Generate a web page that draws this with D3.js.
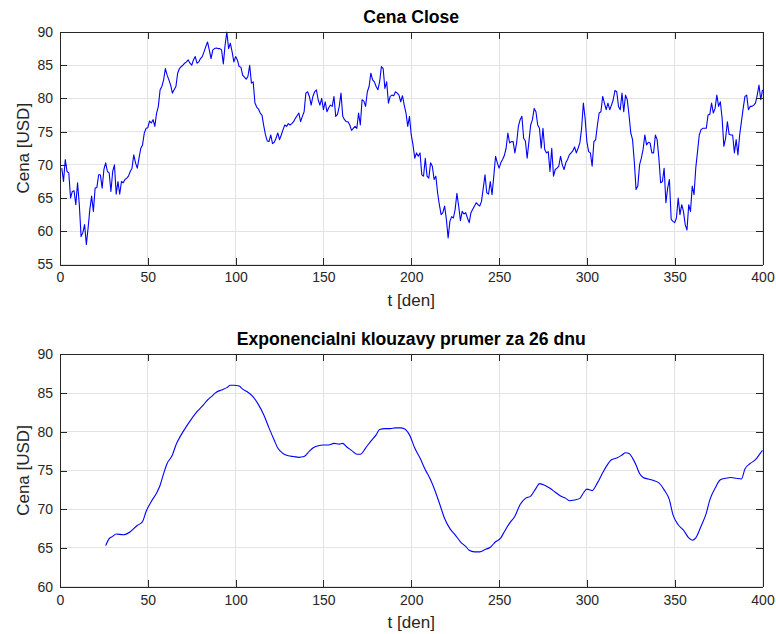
<!DOCTYPE html>
<html>
<head>
<meta charset="utf-8">
<script src="https://cdn.jsdelivr.net/npm/d3@7"></script>
<style>
  html, body { margin: 0; padding: 0; background: #fff; }
  svg { display: block; font-family: "Liberation Sans", Arial, Helvetica, sans-serif; }
</style>
</head>
<body>
<svg id="chart" width="776" height="634"></svg>
<script>
// Daily closing price, days 1..400
const closePrices = [
  69.5, 67.5, 70.8, 69.0, 68.8, 65.0, 66.0, 66.1, 64.0, 67.3,
  64.0, 59.2, 59.8, 61.0, 58.0, 60.5, 63.3, 65.3, 63.0, 66.5,
  66.6, 68.5, 68.5, 66.5, 69.3, 70.3, 69.0, 68.8, 66.0, 69.0,
  70.0, 65.6, 67.5, 65.6, 67.5, 67.3, 67.8, 68.0, 68.3, 69.0,
  69.5, 71.5, 70.3, 69.5, 71.0, 72.5, 73.0, 74.8, 75.5, 75.6,
  76.6, 76.3, 76.8, 75.8, 77.8, 78.8, 81.3, 81.8, 82.8, 84.5,
  83.5, 82.8, 82.0, 80.8, 81.3, 81.8, 83.8, 84.5, 84.8, 85.0,
  85.3, 85.5, 85.8, 85.3, 85.0, 85.8, 86.3, 85.3, 85.5, 86.0,
  86.3, 87.0, 87.8, 88.5, 87.3, 86.0, 87.3, 87.5, 87.6, 87.5,
  87.5, 87.3, 85.2, 88.0, 90.0, 87.5, 88.3, 87.0, 85.5, 86.3,
  85.8, 84.8, 84.7, 83.5, 83.2, 82.9, 83.3, 85.0, 82.3, 82.5,
  79.3, 78.7, 78.4, 77.8, 77.5, 75.9, 74.5, 73.6, 73.5, 74.5,
  73.2, 73.4, 74.0, 74.8, 73.8, 74.5, 75.3, 76.0, 75.8, 76.2,
  76.0, 76.2, 76.5, 77.0, 77.4, 77.8, 76.5, 77.3, 78.0, 80.8,
  81.0, 80.3, 79.0, 80.3, 81.0, 81.3, 79.8, 79.0, 80.0, 78.3,
  79.5, 78.0, 78.6, 79.0, 78.8, 80.3, 77.3, 77.6, 78.8, 80.8,
  77.3, 76.8, 76.5, 76.5, 76.0, 75.2, 75.5, 75.8, 75.5, 77.8,
  76.0, 79.8, 79.6, 78.8, 81.0, 81.8, 83.8, 82.8, 82.5, 81.8,
  81.3, 82.5, 84.8, 84.5, 81.5, 82.5, 79.3, 80.3, 80.5, 80.4,
  81.0, 80.8, 80.5, 79.5, 80.4, 79.0, 77.8, 75.8, 77.3, 74.5,
  73.0, 71.0, 71.8, 71.3, 71.8, 68.5, 68.3, 71.0, 68.3, 68.0,
  70.3, 69.8, 67.8, 68.3, 65.8, 64.0, 62.5, 62.8, 63.8, 61.8,
  59.0, 61.5, 62.2, 62.0, 63.3, 65.7, 63.8, 61.6, 63.0, 62.6,
  62.8, 62.0, 61.3, 62.8, 63.3, 63.8, 64.3, 64.0, 63.8, 64.5,
  66.5, 68.5, 65.8, 65.6, 67.5, 65.5, 68.3, 71.3, 70.3, 69.5,
  70.3, 70.8, 71.4, 72.5, 74.8, 73.3, 73.5, 73.5, 71.8, 73.3,
  75.8, 76.8, 77.3, 74.0, 73.6, 71.0, 73.5, 76.0, 76.8, 78.5,
  78.0, 76.0, 75.5, 72.5, 75.5, 72.3, 71.8, 72.0, 69.0, 72.5,
  68.3, 69.3, 69.5, 69.8, 71.3, 70.0, 69.3, 70.3, 70.8, 71.5,
  71.8, 72.1, 72.7, 71.8, 72.5, 73.3, 75.5, 79.3, 77.0, 73.5,
  72.0, 71.8, 69.8, 73.5, 73.8, 76.0, 77.8, 78.0, 80.3, 79.3,
  78.3, 79.3, 78.3, 79.0, 79.8, 81.2, 81.0, 78.8, 78.3, 80.8,
  78.0, 80.5, 79.8, 77.5, 74.8, 73.8, 70.5, 66.3, 66.8, 70.0,
  71.0, 72.3, 74.5, 73.0, 73.4, 73.3, 71.8, 71.8, 74.5, 73.8,
  71.0, 67.3, 67.5, 69.5, 64.3, 66.5, 67.8, 61.8, 61.5, 61.3,
  62.0, 65.0, 62.5, 64.0, 63.0, 61.0, 60.2, 64.0, 63.0, 66.8,
  65.5, 69.5, 72.0, 74.5, 75.3, 75.5, 75.5, 75.5, 77.5, 77.6,
  79.3, 77.8, 78.5, 80.5, 78.8, 79.5, 77.0, 72.8, 74.0, 76.5,
  74.6, 74.5, 74.5, 71.8, 73.8, 71.5, 74.5, 76.5, 78.5, 80.3,
  80.5, 78.3, 78.8, 78.8, 79.0, 79.3, 80.5, 82.0, 79.8, 81.3
];
const closeDays = closePrices.map((_, i) => i + 1);

// 26-day exponential moving average
const emaDays = [
  26, 28, 30, 32, 36, 40, 44, 47, 49, 52, 55, 57, 59, 61, 64, 66, 69, 72, 75, 78,
  81, 84, 86, 89, 92, 95, 97, 99, 102, 104, 107, 110, 113, 116, 119, 122, 124, 127, 130, 133,
  136, 139, 142, 144, 147, 150, 153, 156, 159, 161, 163, 166, 169, 171, 174, 177, 180, 182, 185, 188,
  191, 194, 196, 199, 202, 205, 208, 211, 213, 216, 219, 222, 225, 228, 231, 233, 236, 239, 242, 245,
  248, 251, 253, 256, 259, 262, 265, 268, 271, 273, 276, 279, 282, 285, 288, 290, 293, 296, 298, 300,
  303, 306, 309, 311, 314, 317, 320, 322, 324, 326, 328, 330, 332, 335, 338, 341, 344, 347, 349, 352,
  355, 358, 360, 362, 365, 368, 370, 373, 376, 379, 382, 385, 388, 390, 393, 396, 399, 400
];
const emaValues = [
  65.3, 66.2, 66.5, 66.8, 66.7, 67.1, 67.9, 68.4, 69.7, 71.0, 72.1, 73.1, 74.6, 75.9, 77.0, 78.3, 79.6, 80.7, 81.7, 82.6,
  83.3, 84.1, 84.5, 85.1, 85.4, 85.7, 86.0, 86.0, 85.9, 85.5, 85.1, 84.5, 83.5, 82.2, 80.5, 78.9, 77.9, 77.2, 76.9, 76.8,
  76.7, 76.8, 77.5, 77.9, 78.2, 78.3, 78.3, 78.5, 78.4, 78.5, 78.1, 77.6, 77.1, 77.1, 77.9, 78.8, 79.6, 80.3, 80.4, 80.4,
  80.5, 80.5, 80.4, 79.6, 77.9, 76.6, 75.1, 73.8, 72.7, 70.8, 68.8, 67.5, 66.7, 65.8, 65.2, 64.7, 64.5, 64.5, 64.8, 65.1,
  65.8, 66.3, 67.1, 68.2, 69.1, 70.6, 71.4, 71.7, 72.7, 73.3, 73.1, 72.7, 72.2, 71.7, 71.4, 71.1, 71.2, 71.4, 72.1, 72.6,
  72.4, 73.4, 74.7, 75.5, 76.4, 76.6, 77.0, 77.3, 77.2, 76.6, 75.7, 74.6, 74.1, 73.9, 73.7, 73.4, 72.5, 71.2, 69.3, 68.0,
  67.3, 66.3, 66.0, 66.3, 67.8, 69.5, 71.2, 72.7, 73.8, 74.0, 74.1, 74.0, 73.9, 75.2, 75.9, 76.4, 77.3, 77.6
];

// Axis tick values
const xTicks = [0, 50, 100, 150, 200, 250, 300, 350, 400];
const yTicksTop = [55, 60, 65, 70, 75, 80, 85, 90];
const yTicksBottom = [60, 65, 70, 75, 80, 85, 90];

const AXIS_COLOR = "#262626";
const GRID_COLOR = "#e3e3e3";
const LINE_COLOR = "#0000ff";
const TICK_FONT = "14px";
const LABEL_FONT = "17px";
const TITLE_FONT = "17.6px";

const svg = d3.select("#chart");

function panel(opts) {
  const { left, right, top, bottom, yDomain, yTicks, xs, ys, title } = opts;
  const x = d3.scaleLinear().domain([0, 400]).range([left, right]);
  const y = d3.scaleLinear().domain(yDomain).range([bottom, top]);
  const g = svg.append("g");

  // grid
  g.append("g").selectAll("line").data(xTicks).join("line")
    .attr("x1", d => x(d)).attr("x2", d => x(d))
    .attr("y1", top).attr("y2", bottom)
    .attr("stroke", GRID_COLOR).attr("stroke-width", 1).attr("shape-rendering", "crispEdges");
  g.append("g").selectAll("line").data(yTicks).join("line")
    .attr("x1", left).attr("x2", right)
    .attr("y1", d => y(d)).attr("y2", d => y(d))
    .attr("stroke", GRID_COLOR).attr("stroke-width", 1).attr("shape-rendering", "crispEdges");

  // data line
  const line = d3.line()
    .x((d, i) => x(xs[i]))
    .y(d => y(d));
  if (opts.smooth) line.curve(d3.curveMonotoneX);
  g.append("path")
    .datum(ys)
    .attr("fill", "none")
    .attr("stroke", LINE_COLOR)
    .attr("stroke-width", 1.1)
    .attr("stroke-linejoin", "round")
    .attr("d", line);

  // axes with inward ticks on all four sides
  const tickLen = 7;
  const styleAxis = sel => {
    sel.select(".domain").attr("stroke", AXIS_COLOR).attr("stroke-width", 1);
    sel.selectAll(".tick line").attr("stroke", AXIS_COLOR).attr("stroke-width", 1);
    sel.selectAll(".tick text").attr("fill", AXIS_COLOR).style("font-size", TICK_FONT)
      .style("font-family", "'Liberation Sans', Arial, sans-serif");
    sel.attr("shape-rendering", "crispEdges");
  };

  g.append("g").attr("transform", `translate(0,${bottom})`)
    .call(d3.axisBottom(x).tickValues(xTicks).tickSizeInner(-tickLen).tickSizeOuter(0).tickPadding(8))
    .call(styleAxis);
  g.append("g").attr("transform", `translate(0,${top})`)
    .call(d3.axisTop(x).tickValues(xTicks).tickSizeInner(-tickLen).tickSizeOuter(0).tickFormat(""))
    .call(styleAxis);
  g.append("g").attr("transform", `translate(${left},0)`)
    .call(d3.axisLeft(y).tickValues(yTicks).tickSizeInner(-tickLen).tickSizeOuter(0).tickPadding(7))
    .call(styleAxis);
  g.append("g").attr("transform", `translate(${right},0)`)
    .call(d3.axisRight(y).tickValues(yTicks).tickSizeInner(-tickLen).tickSizeOuter(0).tickFormat(""))
    .call(styleAxis);

  // title
  g.append("text")
    .attr("x", (left + right) / 2).attr("y", top - 9)
    .attr("text-anchor", "middle")
    .attr("fill", "#000")
    .style("font-size", TITLE_FONT).style("font-weight", "bold")
    .text(title);

  // axis labels
  g.append("text")
    .attr("x", (left + right) / 2).attr("y", bottom + 41)
    .attr("text-anchor", "middle")
    .attr("fill", AXIS_COLOR)
    .style("font-size", LABEL_FONT)
    .text("t [den]");
  g.append("text")
    .attr("transform", `translate(${left - 31},${(top + bottom) / 2}) rotate(-90)`)
    .attr("text-anchor", "middle")
    .attr("fill", AXIS_COLOR)
    .style("font-size", LABEL_FONT)
    .text("Cena [USD]");
}

panel({
  left: 60, right: 762.5, top: 32, bottom: 264.5,
  yDomain: [55, 90], yTicks: yTicksTop,
  xs: closeDays, ys: closePrices,
  title: "Cena Close", smooth: false
});

panel({
  left: 60, right: 762.5, top: 354.3, bottom: 586.7,
  yDomain: [60, 90], yTicks: yTicksBottom,
  xs: emaDays, ys: emaValues,
  title: "Exponencialni klouzavy prumer za 26 dnu", smooth: true
});
</script>
</body>
</html>
